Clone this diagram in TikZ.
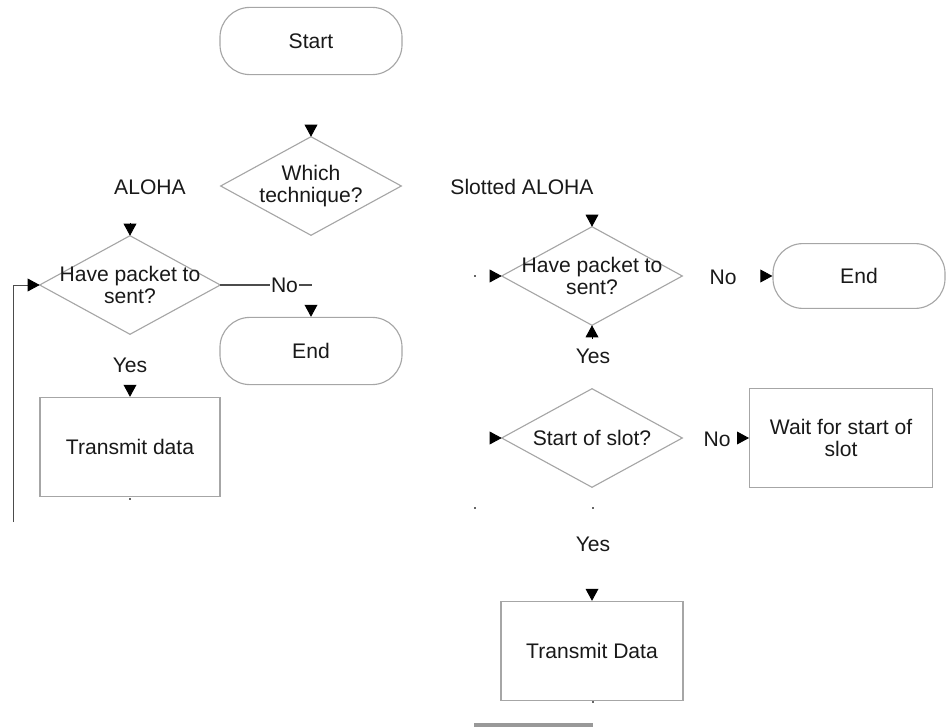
\documentclass[tikz,border=0pt]{standalone}
\usepackage{fontspec}
\setmainfont{Liberation Sans}
\usetikzlibrary{arrows.meta,positioning}

\begin{document}
\begin{tikzpicture}[x=0.025cm, y=-0.025cm, font=\fontsize{15}{15.5}\selectfont, text=black!90,
	term/.style={draw=gray!70, line width=0.8pt, rounded corners=0.75cm, minimum width=4.55cm, minimum height=1.68cm},
	proc/.style={draw=gray!70, line width=0.8pt, minimum width=4.5cm, minimum height=2.48cm, align=center},
	quest/.style={minimum width=4.5cm, minimum height=2.45cm, inner sep=0pt, align=center,
		append after command={\pgfextra{\draw[draw=gray!70, line width=0.8pt] (\tikzlastnode.north) -- (\tikzlastnode.east) -- (\tikzlastnode.south) -- (\tikzlastnode.west) -- cycle;}}},
	tip/.style={-{Triangle[length=0.3cm, width=0.32cm, black]}, line width=0.6pt},
	wire/.style={draw=black!70, line width=1.6pt},
	lab/.style={fill=white, inner sep=1pt}]
	\useasboundingbox (0,0) rectangle (946,727);
	\node[term] (start) at (311,41) {Start};
	\node[quest] (tech) at (311,186) {Which\\technique?};
	\node (aloha) at (150,187) {ALOHA};
	\node (slotted) at (522,187) {Slotted ALOHA};
	\node[quest] (haveL) at (130,285) {Have packet to\\sent?};
	\node[term] (endL) at (311,351) {End};
	\node (yesL) at (130,365) {Yes};
	\node[proc] (sendL) at (130,447) {Transmit data};
	\node[quest] (haveR) at (592,276) {Have packet to\\sent?};
	\node (noR) at (723,277) {No};
	\node[term, minimum width=4.3cm, minimum height=1.62cm] (endR) at (859,276) {End};
	\node (yesR) at (593,356) {Yes};
	\node[quest] (slotR) at (592,438) {Start of slot?};
	\node (noR2) at (717,439) {No};
	\node[proc, minimum width=4.57cm] (waitR) at (841,438) {Wait for start of\\slot};
	\node (yesR2) at (593,544) {Yes};
	\node[proc, minimum width=4.55cm] (sendR) at (592,651) {Transmit Data};
	\coordinate (loopB) at (13,522);
	\coordinate (noLend) at (312,285);
	\coordinate (techIn) at (311,125);
	\coordinate (haveLIn) at (130,223);
	\coordinate (endLIn) at (311,306);
	\coordinate (sendLIn) at (130,386);
	\coordinate (haveRIn) at (592,215);
	\coordinate (haveRSide) at (490,276);
	\coordinate (endRIn) at (761,276);
	\coordinate (haveRUp) at (592,339);
	\coordinate (slotRSide) at (490,438);
	\coordinate (waitIn) at (738,438);
	\coordinate (sendRIn) at (592,589);
	\draw[wire, tip] (loopB) |- (haveL.west);
	\draw[draw=black!70, line width=0.8pt] (haveL.east) -- node[lab, pos=0.7] (noL) {No} (noLend);
	\draw[tip] (techIn) to (tech.north);
	\draw[tip] (haveLIn) to (haveL.north);
	\draw[tip] (endLIn) to (endL.north);
	\draw[tip] (sendLIn) to (sendL.north);
	\draw[tip] (haveRIn) to (haveR.north);
	\draw[tip] (haveRSide) to (haveR.west);
	\draw[tip] (endRIn) to (endR.west);
	\draw[tip] (haveRUp) to (haveR.south);
	\draw[tip] (slotRSide) to (slotR.west);
	\draw[tip] (waitIn) to (waitR.west);
	\draw[tip] (sendRIn) to (sendR.north);
	\foreach \px/\py in {475/276, 475/508, 593/508, 130/499, 593/702}
		\fill[black!60] (\px-1,\py-1) rectangle (\px+1,\py+1);
	\fill[gray!80] (474,723) rectangle (593,727);
\end{tikzpicture}
\end{document}
